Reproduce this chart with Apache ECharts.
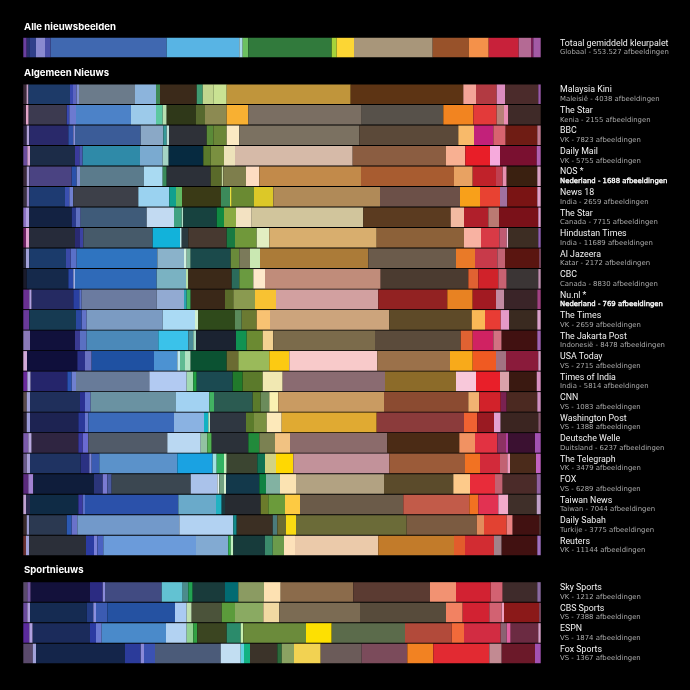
<!DOCTYPE html>
<html><head><meta charset="utf-8">
<script src="https://cdn.jsdelivr.net/npm/echarts@6/dist/echarts.min.js"></script>
<style>html,body{margin:0;padding:0;background:#000;}#c{width:690px;height:690px;}</style>
</head><body><div id="c"></div>
<script>
// ---------- DATA ----------
const globalName = 'Totaal gemiddeld kleurpalet';
const globalSub = 'Globaal - 553.527 afbeeldingen';
const globalWidths = [3.4, 2.6, 6.7, 9, 5.7, 116, 72.6, 3.4, 5.6, 83.4, 5, 17.3, 78.7, 36, 20, 30, 12.3, 2.3, 7.4];
const globalColors = ['#6b3fa0','#2b2f6e','#30408a','#8a8ad0','#4a50a8','#4068b0','#58b4e4','#a8d8e8','#6cc060','#317a3c','#a6d33a','#fcd634','#a8967a','#98522a','#f4914a','#c8213a','#b46a94','#7a1e55','#a35aa5'];

const newsNames = ['Malaysia Kini','The Star','BBC','Daily Mail','NOS *','News 18','The Star','Hindustan Times','Al Jazeera','CBC','Nu.nl *','The Times','The Jakarta Post','USA Today','Times of India','CNN','Washington Post','Deutsche Welle','The Telegraph','FOX','Taiwan News','Daily Sabah','Reuters'];
const newsSubs = ['Maleisië - 4038 afbeeldingen','Kenia - 2155 afbeeldingen','VK - 7823 afbeeldingen','VK - 5755 afbeeldingen','Nederland - 1688 afbeeldingen','India - 2659 afbeeldingen','Canada - 7715 afbeeldingen','India - 11689 afbeeldingen','Katar - 2172 afbeeldingen','Canada - 8830 afbeeldingen','Nederland - 769 afbeeldingen','VK - 2659 afbeeldingen','Indonesië - 8478 afbeeldingen','VS - 2715 afbeeldingen','India - 5814 afbeeldingen','VS - 1083 afbeeldingen','VS - 1388 afbeeldingen','Duitsland - 6237 afbeeldingen','VK - 3479 afbeeldingen','VS - 6289 afbeeldingen','Taiwan - 7044 afbeeldingen','Turkije - 3775 afbeeldingen','VK - 11144 afbeeldingen'];
const newsHighlight = [false,false,false,false,true,false,false,false,false,false,true,false,false,false,false,false,false,false,false,false,false,false,false];

const newsWidths = [
 [3.2, 2, 41.5, 3, 3.5, 2.5, 56, 21, 4, 36.7, 6, 10.6, 13.4, 124, 112.6, 12.7, 20.7, 8.3, 33.3, 2.4],
 [2.7, 2.7, 38, 2.6, 6.7, 55, 25, 6.7, 4, 29.3, 9, 21.7, 21.6, 113.4, 81.6, 30, 23.4, 7.3, 4.3, 32.4],
 [3.4, 2.6, 39, 5, 1.7, 65.7, 22.6, 3.4, 2.3, 37.7, 6.6, 13.4, 12.6, 120, 99, 15.7, 19.3, 12.4, 31.6, 3.4],
 [4, 2.7, 45, 4.3, 3.4, 57.3, 22.7, 6, 34.6, 7.4, 13.3, 11, 117.7, 93.3, 19.3, 24.7, 10, 36.7, 4],
 [3.4, 2.6, 42.4, 5, 3.3, 64, 18.7, 4, 44, 11, 1.6, 22.7, 13.3, 101.7, 93, 18.7, 23.3, 6.7, 4, 30.6, 3.4],
 [3.4, 2.6, 35.7, 4.3, 4, 65, 31, 6.7, 6, 39, 9, 1.7, 22.3, 19.3, 106.7, 80, 20, 20, 7.3, 30, 3.4],
 [2.7, 3.3, 42.4, 4.3, 4.7, 66, 27.3, 7.7, 1.6, 33.4, 7.3, 12, 15.7, 111.6, 87.4, 13.3, 24.3, 10.7, 39.3, 2.4],
 [2.7, 3.3, 45.7, 5, 3.3, 69.4, 27.3, 1.7, 6.6, 38.4, 8.3, 21.7, 12.6, 107.4, 87.3, 17, 18.3, 7.4, 1.6, 30, 2.4],
 [2.7, 3.3, 36.7, 4.7, 6, 80.6, 26.7, 2.7, 4, 40, 8.6, 10.7, 10, 108.3, 87.7, 19, 22.3, 7.7, 34.3, 1.4],
 [3.4, 41.6, 5, 1.7, 81.7, 29.3, 2.3, 43.4, 7.6, 14, 11.7, 115.7, 87.6, 10, 20, 8.4, 31.6, 2.4],
 [6, 2.4, 41.6, 6, 2.4, 75, 27.3, 2.7, 4, 34.3, 8.3, 21.7, 21, 102.3, 69, 25.4, 23.3, 8, 33.3, 3.4],
 [6, 46.7, 5.7, 5, 76, 32.3, 3.3, 36.7, 6.7, 15, 13.3, 119.3, 82.4, 13.3, 15.7, 8.6, 28, 3.4],
 [6.7, 45, 5, 6.7, 71.6, 30, 5, 2.7, 40, 10.7, 16, 10.6, 101.7, 85.7, 12, 20.6, 8.4, 35.6, 3.4],
 [3.7, 50.3, 7.7, 6.7, 62.3, 23.3, 2.7, 5, 5.7, 36, 11.6, 31, 20, 88, 72.7, 22.7, 23.3, 10, 32.3, 2.4],
 [4, 3.4, 36.6, 4.4, 4.3, 73.3, 37.4, 6.6, 3.4, 36, 10, 20, 20, 102.3, 71, 20, 24, 9.3, 27.4, 4],
 [3.4, 3.3, 50, 5, 5.7, 85.3, 33.3, 4.7, 38.7, 8, 8.6, 9, 105.7, 84.3, 11, 21.4, 6, 30.6, 3.4],
 [3.4, 3.3, 48.3, 6.7, 3.3, 85.7, 30, 4.3, 1.7, 36, 8, 12.7, 15, 95, 87.3, 13.3, 16.7, 6.7, 37.6, 2.4],
 [5, 3.4, 46.6, 4.4, 5.6, 79, 33.4, 6.6, 4.4, 36.6, 11, 15.7, 15, 97.3, 72, 15.7, 22.3, 8.7, 2.3, 26.7, 5.7],
 [3.4, 3.3, 50.7, 8.6, 2.4, 7.6, 78, 35.4, 4, 7.3, 2.7, 30.6, 7.7, 11, 17.3, 96, 75.7, 15, 20, 7.3, 2.7, 26, 4.7],
 [5, 5, 60.7, 8.7, 4.6, 4.4, 79, 26.6, 2, 4.7, 2, 33.3, 6.7, 14, 16, 88, 69.3, 16.7, 25, 7.7, 34, 4],
 [2.7, 4, 48.3, 4.4, 2.3, 93.3, 37.7, 5.7, 3.3, 35.7, 7.6, 16.7, 15, 103.3, 66, 9, 20, 10, 28.4, 4],
 [3.4, 2.6, 37.4, 5, 5.6, 102, 54, 3.4, 36, 4.6, 8.7, 10, 110.7, 70, 7.3, 22.7, 6, 26.6, 1.4],
 [2.7, 3.3, 56.7, 8, 3.3, 6, 92.7, 32.3, 2.4, 2.6, 31.7, 7.7, 11.3, 11, 83.3, 75.7, 11, 29, 7.7, 35.6, 3.4]
];
const newsColors = [
 ['#3a2838','#c8a0c8','#1d3a68','#3848b0','#5c64c0','#8090d0','#6b7b8b','#8cb4dc','#3f8a55','#3b2a1a','#3f9a70','#c2d68e','#c9e293','#c0953b','#5d3414','#f3a498','#b23a42','#dc8cbf','#4b2b2b','#9a5aa8'],
 ['#302030','#e2a4c8','#3c3a50','#3848b0','#6c7ad0','#4c82c8','#9ccaea','#5cc8a0','#b8e0b0','#2f3819','#56682e','#8c8a52','#f8b032','#7a6e62','#57514a','#f28420','#e33a3a','#b88078','#ea8cb4','#3f2a28'],
 ['#2a2040','#b0a0d8','#29296a','#3152aa','#8a90d8','#3b5c98','#8aa8c6','#389a9a','#c0e0d8','#2e3138','#5a8a38','#6b8738','#fbe9c2','#7b7161','#5b4939','#f8ba6a','#c2217a','#d8636f','#6f1c14','#c07a90'],
 ['#6a4c9c','#d4a4d4','#1c2c48','#3a3a9c','#4a5ab2','#2f8aa8','#7aaad0','#a4d4c4','#062a40','#5a7a2c','#7a9040','#ede2ba','#d6baa8','#8b5d41','#f8b092','#e81e28','#f6aadc','#7a1030','#b060b0'],
 ['#3a2838','#a89ad0','#4a4382','#2a52aa','#8090d0','#5b7b8c','#a9daf2','#3a8a5a','#2c3038','#5a6a2a','#c8d8a0','#7e7e4c','#fddcc2','#c28a4a','#a85c30','#e8a262','#c0222a','#c04050','#e890b0','#3a2010','#d8a0c0'],
 ['#3a3040','#9a8ac8','#1e3b72','#3a50b0','#7080d0','#3d4049','#9ad2f0','#10a08e','#62ba62','#3a3a16','#3c8a5a','#e8e040','#6a8a32','#dcc828','#b08a58','#6c5048','#f8a01a','#e84232','#a070a0','#7a1414','#e0a0c8'],
 ['#8a70c2','#b0a0e0','#132242','#2a3a8c','#6070c0','#3f5b79','#c2daf2','#40a282','#b0e0c8','#17423f','#108a42','#8aaa42','#f3e2c2','#d1c59c','#5b3b20','#f2baa2','#b01f2b','#ba7a72','#7a1119','#e0a0d0'],
 ['#6a2060','#e0a0d0','#262b3a','#2a2a72','#3c42a2','#465a6a','#12b2da','#c0eef0','#2a3a40','#473930','#187a42','#70983a','#e2eec2','#d8ae6e','#8c6139','#f8b2a2','#d83a46','#c05a72','#f0c0d8','#3d2d23','#9060b0'],
 ['#2a2a40','#a0a0d8','#1b3b6b','#3a4aa8','#5a70c8','#2f74c0','#8ab2ca','#d0f0e0','#80b8a0','#1b4a4b','#6a8a3a','#7b7a5a','#cae8b2','#ab7b38','#6b5b4b','#e97a28','#c83a4a','#c26272','#5a1510','#a06080'],
 ['#1a1a2a','#15294b','#2a48a8','#a0b0e8','#2f6ab8','#7ab2c2','#b8e0a8','#3b2918','#2b6b5b','#6a9a40','#fde8ca','#c08c7a','#4b3b30','#e06232','#d0222a','#c86272','#3b3535','#c090b0'],
 ['#6a3092','#b0a0e0','#252a62','#2a40a2','#5a70c8','#6b7ba0','#92aad2','#2aa2b2','#42b262','#3a2818','#5a6a2a','#8a9a50','#f8c232','#d2a0a0','#922222','#e88222','#a21a22','#c28aa2','#3a2428','#a04282'],
 ['#6a3a9a','#163a52','#2a48a2','#6272c8','#7b9bc2','#aadaf4','#d0f0d0','#2f4a1b','#5a8a5a','#6b7a32','#f8c272','#cca47c','#5e4a28','#fab856','#e83c34','#e49ac8','#3a2a20','#d8a0c8'],
 ['#8a7ab8','#11113c','#3a3a92','#5a70c2','#4b89b9','#3ac2ea','#4a8c9a','#a0d8c0','#1b2331','#109252','#6b8a32','#f2d292','#7b6b4b','#5b4b3b','#e06232','#d02262','#d27282','#411111','#a062b2'],
 ['#d0a8d8','#0f0f3b','#2b318a','#6a72c2','#1f51a2','#4c92d2','#c0e8f0','#60ba92','#b2e2c2','#0b5232','#6b6b32','#9aba5a','#fcca12','#f8caca','#9b714a','#f8aa1a','#f05a22','#a27282','#8a1b3b','#d8a0c8'],
 ['#6a2a9c','#b8b0e8','#25256b','#2a52b2','#7080d0','#687b99','#b2caf2','#a2dab2','#22a242','#1b4a51','#217a2b','#5b7a2b','#f1e8b2','#8a6b71','#8c6b29','#f8c8da','#e81f29','#daa2aa','#3a1911','#d890c0'],
 ['#5a4a4a','#a0a0d8','#1f2f5b','#2b3192','#6272ca','#6a92a2','#a2d2f2','#42b262','#2b5b51','#5b7b2b','#6b8b5b','#f9f1b2','#c99b62','#8b4b31','#f1b272','#d2222a','#7a2252','#4b2921','#d090c0'],
 ['#2a2030','#9a9ad8','#1d2352','#2b399a','#6a78d0','#3b6aba','#8ab2e2','#12b2c2','#c0f0d0','#2f3741','#5b7b2b','#7b9142','#fde9ba','#e0aa32','#8b3b3b','#f06232','#9a1a22','#e2a2d2','#3b2521','#8a5a70'],
 ['#7a5aaa','#b8a8e0','#2f2541','#3a3aa2','#6a6ad2','#515b69','#bad8f2','#92c2a2','#52b252','#2b3139','#218a3b','#7b8152','#f1c282','#8b6b6b','#4b2b15','#f19262','#e23242','#8c3262','#b242a2','#3b1131','#a252b2'],
 ['#6a5a8a','#a8a0d8','#1f3362','#2b3182','#8088d8','#3b5bb2','#5b92ca','#1aa2e2','#a2e2e2','#32b262','#c8f0c0','#3b4531','#107252','#d2d282','#ffd802','#c2929a','#9b5b39','#f27222','#d22a3a','#c26272','#f0a0c0','#4b2b1b','#c262c2'],
 ['#5a2a7c','#a282d2','#0f1d3b','#2b357a','#7a7ad2','#4a5aa0','#3b4751','#aac2ea','#e0f0f0','#72a282','#d8f0d0','#13394b','#108242','#82b2a2','#fbe3b2','#b2a282','#5b4b2b','#fdca8a','#e82c3a','#c26272','#4b2b29','#9060a0'],
 ['#c2a2d2','#2a2a50','#0f2b45','#3a3aa2','#5a70c8','#2b51aa','#6aaaca','#22b2c2','#1a3a40','#272b31','#6b7b2b','#6b9b3b','#fdca42','#6b5b49','#c25b49','#f27222','#e23252','#f2aaca','#3f2f29','#c0a0c8'],
 ['#3a2a2a','#9a9ad0','#2b3951','#2b59b2','#6a72ca','#7299ca','#b2d2f2','#128a8a','#3b2f23','#4b7b7b','#6b6b32','#f9da12','#6b6b38','#7b5b41','#e28c5c','#e24232','#ea8282','#411111','#604040'],
 ['#6a3232','#a0a0d8','#2b2f39','#2b3ba2','#7a80d8','#4b62c2','#6b9bda','#82aad2','#32b252','#c0f0c0','#173b3b','#3b8b6b','#6b9b4b','#fde1ba','#ebcaaa','#c27b2a','#e25c2c','#d22c32','#a2828a','#411111','#a070c0']
];

const sportNames = ['Sky Sports','CBS Sports','ESPN','Fox Sports'];
const sportSubs = ['VK - 1212 afbeeldingen','VS - 7388 afbeeldingen','VS - 1874 afbeeldingen','VS - 1367 afbeeldingen'];
const sportWidths = [
 [4, 3.4, 59.3, 12.7, 2.3, 56.7, 21, 5.6, 4.4, 32.3, 13.3, 25.7, 16.7, 72.6, 76.7, 26, 34.7, 12, 34.6, 3.4],
 [4, 2.7, 56.7, 6.6, 2.7, 11.3, 67.7, 11.7, 5, 30, 13.3, 28.3, 16, 80.7, 86, 16.7, 26.6, 12.4, 2.3, 35.3, 1.4],
 [6, 3.4, 57.3, 6, 5.7, 64.3, 20.7, 6.6, 4, 29.4, 14, 2.6, 62.7, 25.7, 73.3, 46.7, 12.3, 36.7, 6, 4, 27.6, 2.4],
 [9.4, 3.3, 89, 15.7, 3.3, 11, 65.7, 20, 3.3, 6, 27.3, 4.4, 12.3, 26.7, 41, 45.6, 26, 56, 12.4, 33.3, 5.7]
];
const sportColors = [
 ['#5a4a6c','#7a5aaa','#13113b','#2b2b82','#8a8ad8','#414b82','#62c2d2','#4b8b8b','#22a252','#193b3b','#026b72','#8b9b62','#fde1b2','#8b6b4b','#5b3b32','#f29272','#d22232','#d26272','#3f2b2b','#8a6aa0'],
 ['#6a4a9c','#b0a0e0','#152b52','#223b82','#8a90e0','#3b5bb2','#2552a2','#aacaf2','#c0e0b0','#4b533a','#5b9b3b','#8aaa62','#f1d9a2','#7b6b53','#574b3b','#f28262','#d22232','#d26272','#f0a0c0','#8b1919','#a06080'],
 ['#5a2a9c','#b0a0e0','#1b2b5b','#2b3ba2','#6a7ad2','#4a8aca','#b2d2f2','#92d292','#32a242','#3b4521','#2b8b6b','#c8f0b0','#6b8b3b','#fde002','#5b6b4b','#b24a3a','#f26a3a','#d22c42','#8b6272','#e262a2','#6b2b42','#d8a0c8'],
 ['#5a4a6c','#a2a2da','#14254a','#2b3b9a','#8a8ad8','#3b52b2','#4b5b79','#c2def2','#62d2e2','#12b282','#3b3329','#2b6b3b','#8aa262','#f2d252','#6b5b59','#7b4b5b','#f28222','#e22a32','#c28a92','#6b1929','#a252b2']
];

const headings = ['Alle nieuwsbeelden','Algemeen Nieuws','Sportnieuws'];

// ---------- CHART ----------
const HEAD_FONT = 'Inter, "Noto Sans", sans-serif';
const TITLE_FONT = 'Roboto, "Noto Sans", sans-serif';
const SUB_FONT = '"DejaVu Sans", "Noto Sans", sans-serif';
const chart = echarts.init(document.getElementById('c'), null, {renderer:'canvas'});

const groups = [
  {names:[globalName], subs:[globalSub], hl:[false], widths:[globalWidths], colors:[globalColors], top:37.8, height:19.5},
  {names:newsNames, subs:newsSubs, hl:newsHighlight, widths:newsWidths, colors:newsColors, top:84, height:471.7},
  {names:sportNames, subs:sportSubs, hl:[false,false,false,false], widths:sportWidths, colors:sportColors, top:581.7, height:82}
];

const grid = [], xAxis = [], yAxis = [], series = [];
groups.forEach((g, gi) => {
  grid.push({left:23.3, width:517.4, top:g.top, height:g.height, containLabel:false});
  xAxis.push({gridIndex:gi, type:'value', min:0, max:100, show:false});
  yAxis.push({
    gridIndex:gi, type:'category', inverse:true, position:'right',
    data:g.names.map((_, i) => String(i)),
    axisLine:{show:false}, axisTick:{show:false}, splitLine:{show:false},
    axisLabel:{
      show:true, margin:19.3, align:'left',
      formatter:(v, i) => `{t|${g.names[i]}}\n{${g.hl[i] ? 'h' : 's'}|${g.subs[i]}}`,
      rich:{
        t:{color:'#f2f2f2', fontSize:8.8, fontFamily:TITLE_FONT, lineHeight:10},
        s:{color:'#a9a9a9', fontSize:6.9, fontFamily:SUB_FONT, lineHeight:8},
        h:{color:'#ffffff', fontSize:6.9, fontFamily:SUB_FONT, lineHeight:8,
           textBorderColor:'#ffffff', textBorderWidth:0.35}
      }
    }
  });
  const sums = g.widths.map(r => r.reduce((a, b) => a + b, 0));
  const maxK = Math.max(...g.widths.map(r => r.length));
  for (let k = 0; k < maxK; k++) {
    series.push({
      type:'bar', xAxisIndex:gi, yAxisIndex:gi, stack:'g' + gi,
      barCategoryGap: gi === 0 ? '0%' : '4.5%',
      silent:true, animation:false,
      data:g.widths.map((r, i) => k < r.length
        ? {value: r[k] / sums[i] * 100, itemStyle:{color: g.colors[i][k]}}
        : '-')
    });
  }
});

const headingY = [28.3, 74.3, 571.5];
const graphic = headings.map((h, i) => ({
  type:'text', left:24, top:headingY[i] - 6,
  style:{text:h, fill:'#ffffff', font:'bold 9.6px ' + HEAD_FONT}
}));

chart.setOption({
  backgroundColor:'#000000',
  animation:false,
  grid, xAxis, yAxis, series, graphic
});
</script>
</body></html>
